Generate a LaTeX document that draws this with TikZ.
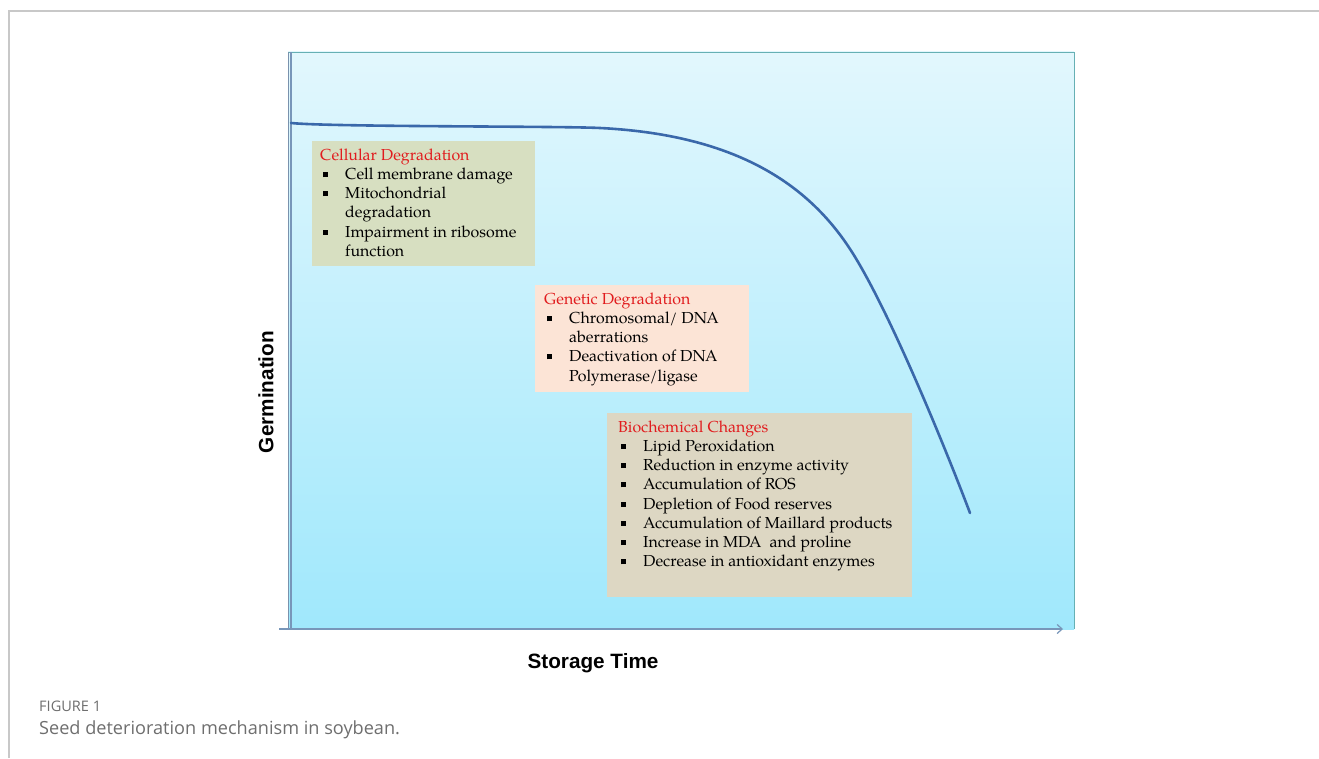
\documentclass[tikz,border=0pt]{standalone}
\usepackage{fontspec}
\setmainfont{TeX Gyre Pagella}
\newfontfamily\axisfont{Liberation Sans}
\newfontfamily\capfont{Open Sans}
\usetikzlibrary{arrows.meta}

\definecolor{cardline}{RGB}{200,200,200}
\definecolor{skytop}{RGB}{226,247,253}
\definecolor{skybot}{RGB}{160,232,252}
\definecolor{rim}{RGB}{102,176,180}
\definecolor{axisblue}{RGB}{120,150,185}
\definecolor{decayblue}{RGB}{58,104,170}
\definecolor{titlered}{RGB}{225,28,30}
\definecolor{cellfill}{RGB}{215,223,193}
\definecolor{genefill}{RGB}{252,228,214}
\definecolor{biofill}{RGB}{221,215,195}
\definecolor{capgray}{RGB}{110,110,110}

\tikzset{>/.tip={Straight Barb[length=5bp,width=9bp]},
  panelbox/.style={anchor=north west, inner sep=0pt},
  boxtext/.style={anchor=north west, inner sep=0pt, align=left,
    font=\fontsize{16}{19.3}\selectfont},
  axislabel/.style={font=\axisfont\bfseries\fontsize{20.8}{24}\selectfont},
  decay/.style={decayblue, line width=2.6bp, line cap=round}}

% square bullet and hanging indent for the lists
\newcommand{\blt}{\makebox[25bp][l]{\hspace{3bp}\rule[2.5bp]{5bp}{5bp}}}
\newcommand{\cont}{\hspace*{25bp}}
\newcommand{\hd}[1]{{\color{titlered}#1}}

\begin{document}
\begin{tikzpicture}[x=1bp, y=-1bp]
\useasboundingbox (0,0) rectangle (1319,758);
\draw[cardline, line width=1.5bp] (9,758) -- (9,11) -- (1319,11);

% plotting area
\shade[top color=skytop, bottom color=skybot] (288,52) rectangle (1074,629);
\draw[rim] (288,52) -- (1074,52) -- (1074,629);
\draw[axisblue!80!gray] (288,52) -- (288,629);

\coordinate (ytop) at (291,52);
\coordinate (ybot) at (291,629);
\coordinate (xbeg) at (279,629);
\coordinate (xend) at (1063,629);
\draw[axisblue, line width=1.2bp] (ybot) -- (ytop);
\draw[axisblue, line width=1.2bp, ->] (xbeg) -- (xend);

% germination falls off with storage time
\coordinate (g0) at (291,123);
\coordinate (g1) at (600,128);
\coordinate (g2) at (850,249);
\coordinate (g3) at (970,513);
\draw[decay] (g0) .. controls (330,127) and (560,126) .. (g1)
  .. controls (730,134.5) and (805,180) .. (g2)
  .. controls (890,310.2) and (950,460) .. (g3);

% stages of deterioration
\node[panelbox, fill=cellfill, minimum width=223bp, minimum height=125bp] (cell) at (312,141) {};
\node[boxtext] (celltxt) at ([shift={(8,7.5)}]cell.north west) {%
\hd{Cellular Degradation}\\
\blt Cell membrane damage\\
\blt Mitochondrial\\
\cont degradation\\
\blt Impairment in ribosome\\
\cont function};

\node[panelbox, fill=genefill, minimum width=214bp, minimum height=107bp] (gene) at (535,285) {};
\node[boxtext] (genetxt) at ([shift={(9,7.5)}]gene.north west) {%
\hd{Genetic Degradation}\\
\blt Chromosomal/ DNA\\
\cont aberrations\\
\blt Deactivation of DNA\\
\cont Polymerase/ligase};

\node[panelbox, fill=biofill, minimum width=305bp, minimum height=184bp] (bio) at (607,413) {};
\node[boxtext] (biotxt) at ([shift={(11,7.5)}]bio.north west) {%
\hd{Biochemical Changes}\\
\blt Lipid Peroxidation\\
\blt Reduction in enzyme activity\\
\blt Accumulation of ROS\\
\blt Depletion of Food reserves\\
\blt Accumulation of Maillard products\\
\blt Increase in MDA~ and proline\\
\blt Decrease in antioxidant enzymes};

% axis titles
\node[axislabel, rotate=90] (ylab) at (266,392) {Germination};
\node[axislabel] (xlab) at (593,663) {Storage Time};

% caption
\node[anchor=base west, inner sep=0pt, text=capgray, font=\capfont\fontsize{14.6}{16}\selectfont] (fig) at (39,711) {FIGURE 1};
\node[anchor=base west, inner sep=0pt, text=capgray, font=\capfont\fontsize{18.2}{21}\selectfont] (cap) at (39,734) {Seed deterioration mechanism in soybean.};
\end{tikzpicture}
\end{document}
